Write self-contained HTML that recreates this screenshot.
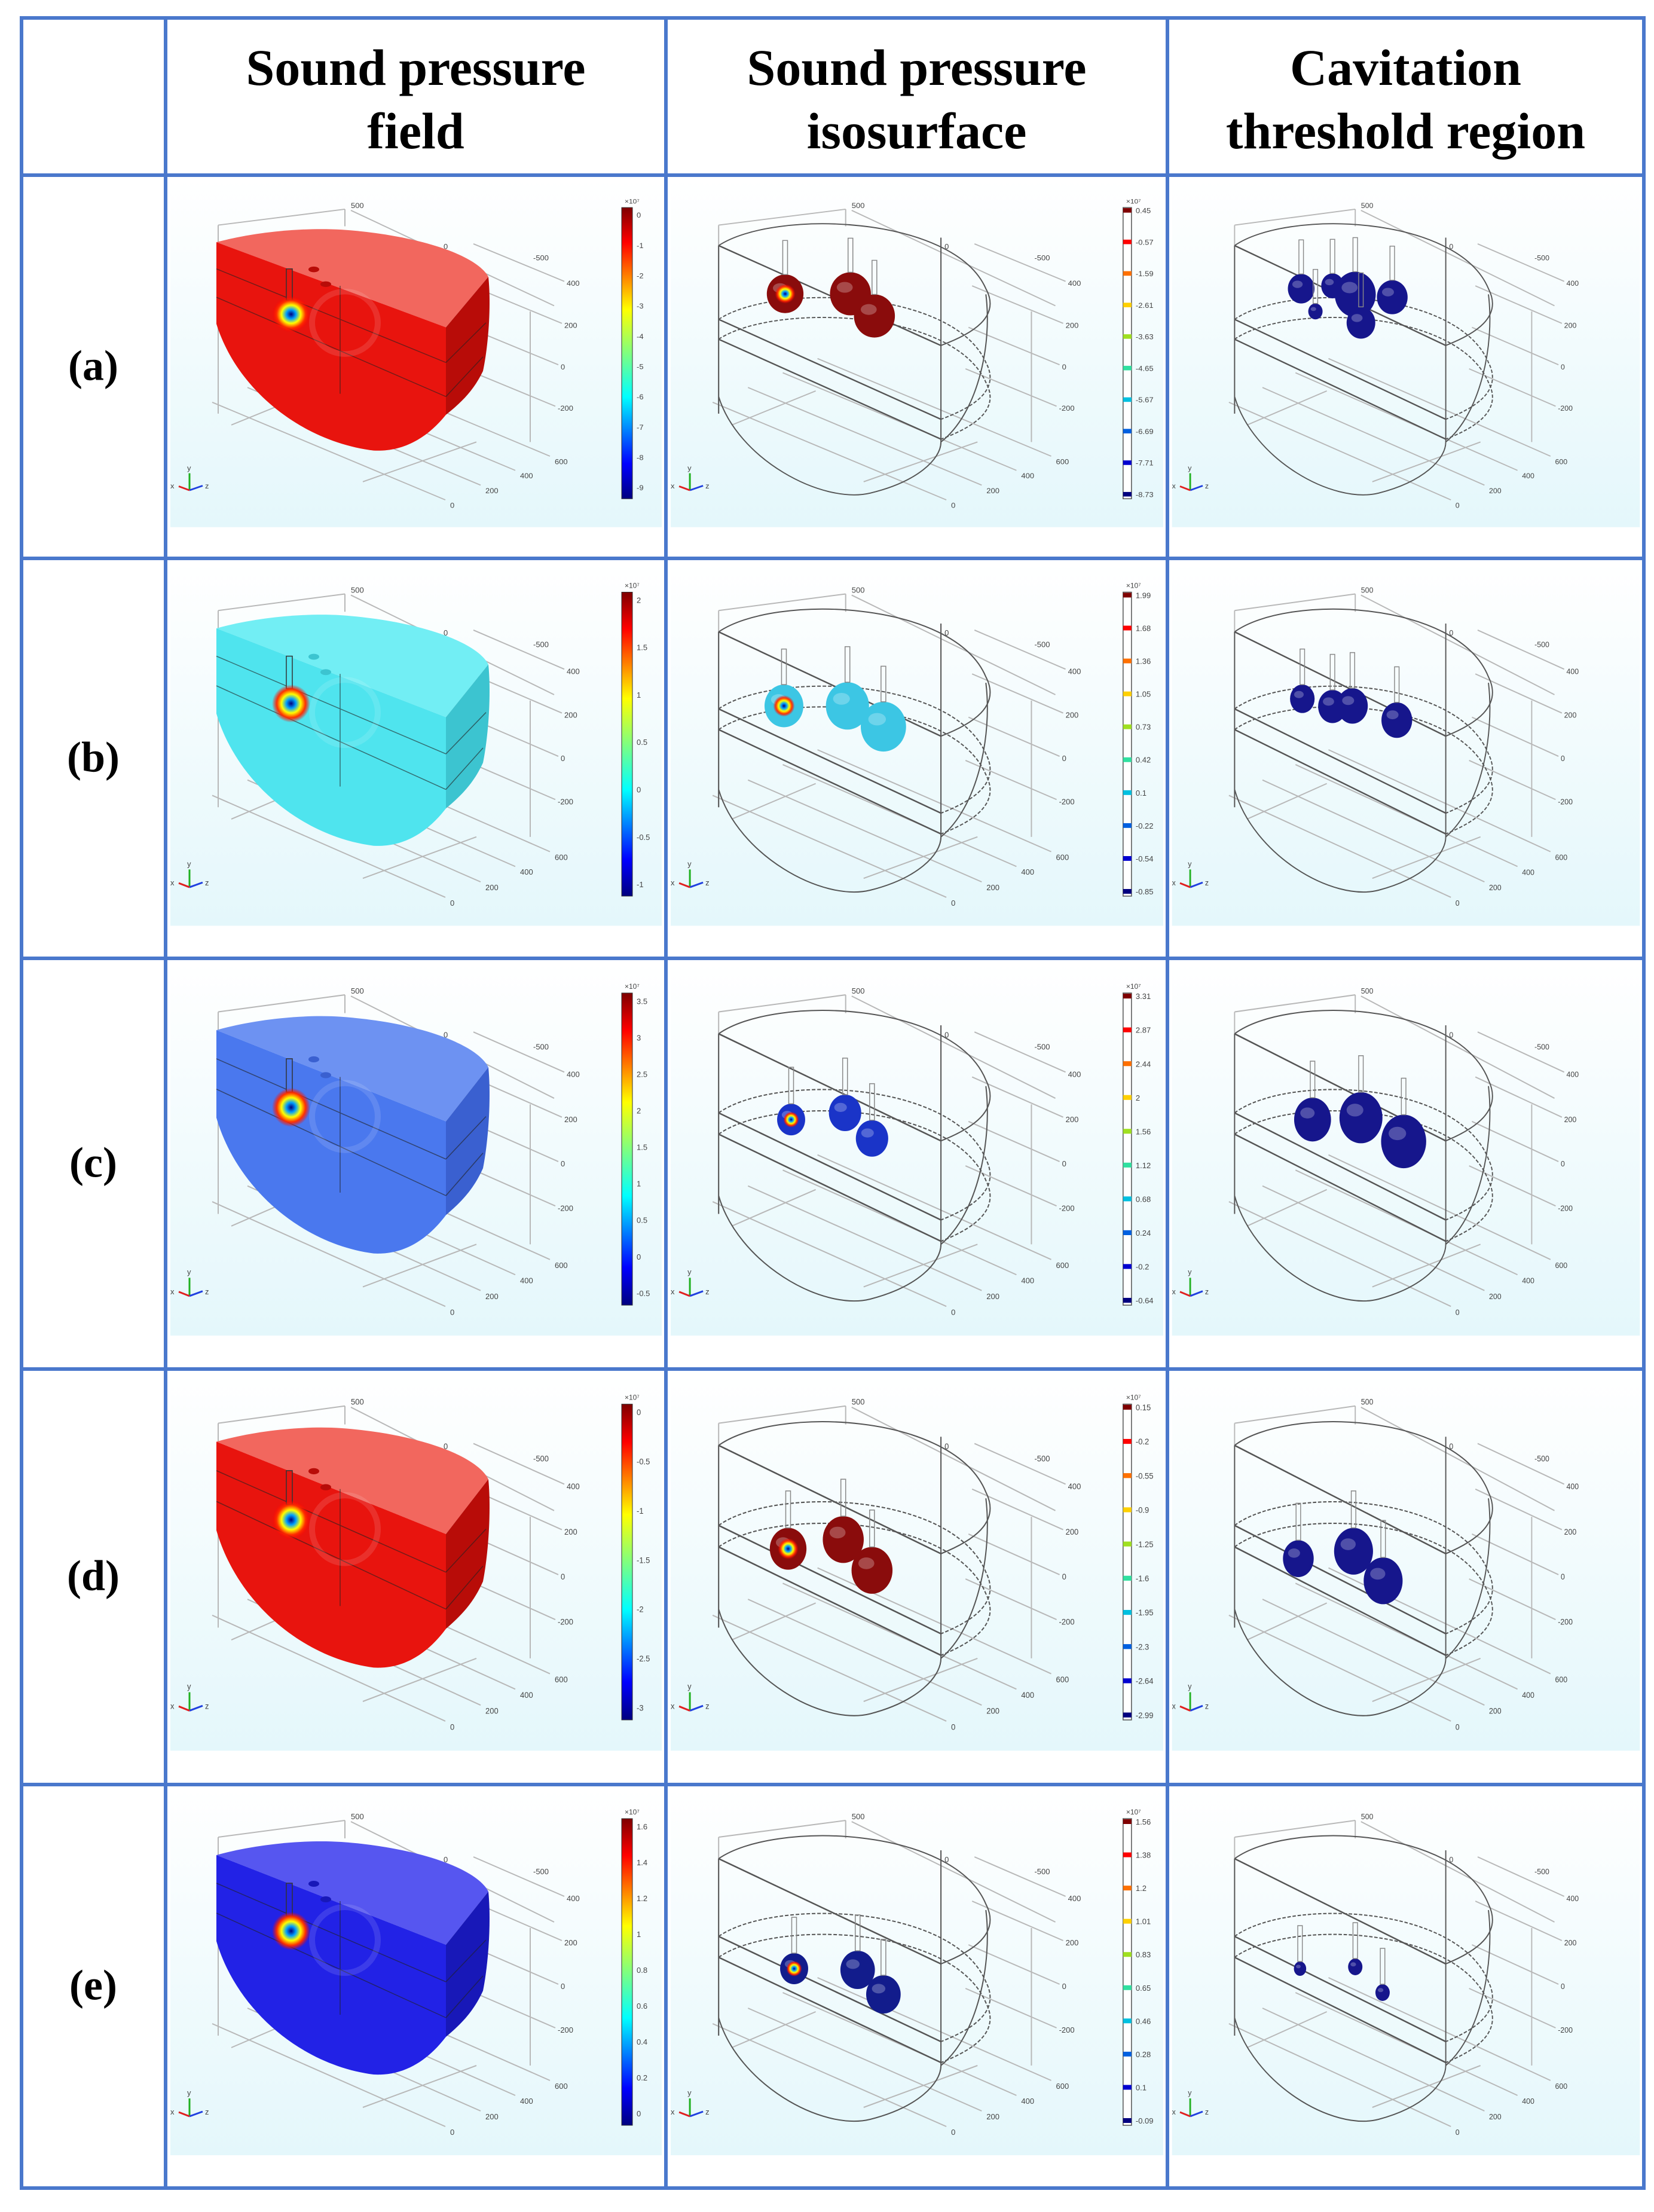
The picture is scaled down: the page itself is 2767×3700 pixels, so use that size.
<!DOCTYPE html>
<html><head><meta charset="utf-8"><style>
html,body{margin:0;padding:0;background:#fff}
svg{display:block}
</style></head><body>
<svg id="fig" width="2767" height="3700" viewBox="0 0 2767 3700" xmlns="http://www.w3.org/2000/svg">
<defs>
<linearGradient id="bg" x1="0" y1="0" x2="0" y2="1"><stop offset="0" stop-color="#ffffff"/><stop offset="1" stop-color="#e4f7fb"/></linearGradient>
<linearGradient id="jet" x1="0" y1="1" x2="0" y2="0"><stop offset="0" stop-color="#00007f"/><stop offset="0.12" stop-color="#0000ff"/><stop offset="0.35" stop-color="#00ffff"/><stop offset="0.5" stop-color="#7fff7f"/><stop offset="0.65" stop-color="#ffff00"/><stop offset="0.88" stop-color="#ff0000"/><stop offset="1" stop-color="#7f0000"/></linearGradient>
<radialGradient id="hot"><stop offset="0" stop-color="#00007f"/><stop offset="0.25" stop-color="#00a0ff"/><stop offset="0.5" stop-color="#ffff00"/><stop offset="0.75" stop-color="#ff3000"/><stop offset="1" stop-color="#ff0000" stop-opacity="0"/></radialGradient>
</defs>
</svg>
<script>
const colX=[36,277,1114,1953,2750];
const rowY=[30,293,934,1603,2290,2985,3660];
const headers=[["Sound pressure","field"],["Sound pressure","isosurface"],["Cavitation","threshold region"]];
const rowLabels=["(a)","(b)","(c)","(d)","(e)"];
const fieldFront=["#e8140e","#4fe4ee","#4a78ee","#e8140e","#2222e6"];
const fieldTop=["#f2675e","#72eef4","#6d92f2","#f2675e","#5656f0"];
const fieldSide=["#b80c08","#3cc4d0","#3a60d0","#b80c08","#1818b8"];
const isoColor=["#8a0c0c","#3cc6e4","#1a34c8","#8a0c0c","#121c8c"];
const cavColor=["#16168c","#16168c","#16168c","#16168c","#16168c"];
const field1Ticks=[["0","-1","-2","-3","-4","-5","-6","-7","-8","-9"],["2","1.5","1","0.5","0","-0.5","-1"],["3.5","3","2.5","2","1.5","1","0.5","0","-0.5"],["0","-0.5","-1","-1.5","-2","-2.5","-3"],["1.6","1.4","1.2","1","0.8","0.6","0.4","0.2","0"]];
const isoTicks=[["0.45","-0.57","-1.59","-2.61","-3.63","-4.65","-5.67","-6.69","-7.71","-8.73"],["1.99","1.68","1.36","1.05","0.73","0.42","0.1","-0.22","-0.54","-0.85"],["3.31","2.87","2.44","2","1.56","1.12","0.68","0.24","-0.2","-0.64"],["0.15","-0.2","-0.55","-0.9","-1.25","-1.6","-1.95","-2.3","-2.64","-2.99"],["1.56","1.38","1.2","1.01","0.83","0.65","0.46","0.28","0.1","-0.09"]];
const isoTickColors=["#7f0000","#ff0000","#ff7000","#ffd000","#a0e020","#30e0a0","#00c0e0","#0060e0","#0000d0","#00007f"];
const isoBlobs=[[[199,209,34],[308,209,38],[348,248,38]],[[197,249,36],[303,249,40],[363,284,42]],[[209,265,26],[299,254,30],[344,296,30]],[[204,292,34],[296,277,38],[344,327,38]],[[214,308,26],[320,310,32],[363,351,32]]];
const cavBlobs=[[[235,200,26],[290,195,22],[330,210,40],[395,215,30],[340,260,28],[260,240,14]],[[237,237,24],[290,250,28],[325,249,30],[403,273,30]],[[255,265,36],[340,262,42],[415,301,44]],[[230,308,30],[327,296,38],[379,344,38]],[[233,308,12],[330,305,14],[378,348,14]]];
const NS="http://www.w3.org/2000/svg";
const svg=document.getElementById('fig');
function mk(tag,attrs,parent){const e=document.createElementNS(NS,tag);for(const k in attrs)e.setAttribute(k,attrs[k]);(parent||svg).appendChild(e);return e;}

headers.forEach((h,i)=>{
  const cx=(colX[i+1]+colX[i+2])/2;
  const t=mk('text',{x:cx,y:142,'text-anchor':'middle','font-family':'Liberation Serif, serif','font-weight':'bold','font-size':86,fill:'#000'});
  
  
  t.textContent=h[0];
  const t2=mk('text',{x:cx,y:248,'text-anchor':'middle','font-family':'Liberation Serif, serif','font-weight':'bold','font-size':86,fill:'#000'});
  
  
  t2.textContent=h[1];
});
rowLabels.forEach((l,r)=>{
  const cy=(rowY[r+1]+rowY[r+2])/2;
  const t=mk('text',{x:156,y:cy+22,'text-anchor':'middle','font-family':'Liberation Serif, serif','font-weight':'bold','font-size':72,fill:'#000'});
  
  
  t.textContent=l;
});

function smallText(g,x,y,s,sz){const t=mk('text',{x:x,y:y,'font-family':'Liberation Sans, sans-serif','font-size':sz||13,fill:'#444'},g);t.textContent=s;return t;}
function axesTriad(g){mk('path',{d:'M40,555 L40,525',stroke:'#20b020','stroke-width':3},g);mk('path',{d:'M40,555 L62,547',stroke:'#2040e0','stroke-width':3},g);mk('path',{d:'M40,555 L22,548',stroke:'#e02020','stroke-width':3},g);smallText(g,36,520,'y',13);smallText(g,66,552,'z',13);smallText(g,8,552,'x',13);}
function gridLines(g,dx){
  const c='#b8b8b8';
  mk('path',{d:`M${88+dx},88 L${300+dx},60 M${310+dx},62 L${650+dx},230 M${88+dx},88 L${88+dx},420 M${300+dx},60 L${300+dx},90 M${610+dx},240 L${610+dx},470`,stroke:c,'stroke-width':2,fill:'none'},g);
  // bottom parallel grid lines ending at 0,200,400,600
  const ends=[[468,572,'0'],[527,546,'200'],[585,520,'400'],[643,495,'600']];
  ends.forEach(e=>{mk('path',{d:`M${e[0]-390+dx},${e[1]-172} L${e[0]+dx},${e[1]}`,stroke:c,'stroke-width':2},g);smallText(g,e[0]+8+dx,e[1]+14,e[2]);});
  mk('path',{d:`M${110+dx},440 L${250+dx},380 M${330+dx},540 L${520+dx},470`,stroke:c,'stroke-width':2},g);
  // right side lines labelled 400..-200
  const rs=[[675,191,'400'],[671,265,'200'],[665,338,'0'],[660,411,'-200']];
  rs.forEach(e=>{mk('path',{d:`M${e[0]-160+dx},${e[1]-70} L${e[0]-8+dx},${e[1]-4}`,stroke:c,'stroke-width':2},g);smallText(g,e[0]-4+dx,e[1]+4,e[2]);});
  smallText(g,310+dx,58,'500');smallText(g,465+dx,130,'0');smallText(g,615+dx,150,'-500');
}
function wire(g,dx){
  const c='#555';
  const L=88+dx,F=459+dx;
  [0,130,165].forEach((o,i)=>{
    mk('path',{d:`M${L},${124+o} L${F},${300+o}`,stroke:c,'stroke-width':2.5,fill:'none'},g);
    mk('path',{d:`M${L},${124+o} C${180+dx},${60+o} ${480+dx},${70+o} ${534+dx},${200+o} C${560+dx},${250+o} ${510+dx},${280+o} ${F},${300+o}`,stroke:c,'stroke-width':2,'stroke-dasharray':i==0?'none':'6 3',fill:'none'},g);
  });
  mk('path',{d:`M${L},124 L${L},420 M${F},110 L${F},470 M${L},390 C${120+dx},500 ${260+dx},580 ${341+dx},560 C${420+dx},540 ${459+dx},500 ${F},470 M${534+dx},210 C${545+dx},300 ${520+dx},420 ${459+dx},470`,stroke:c,'stroke-width':2,fill:'none'},g);
}
function blob(g,x,y,r,col,hot){
  mk('ellipse',{cx:x,cy:y,rx:r*0.9,ry:r,fill:col},g);
  mk('ellipse',{cx:x-r*0.25,cy:y-r*0.3,rx:r*0.35,ry:r*0.25,fill:'#ffffff',opacity:0.25},g);
  mk('rect',{x:x-4,y:y-r-60,width:8,height:60,fill:'none',stroke:'#888','stroke-width':1.5},g);
  if(hot)mk('circle',{cx:x,cy:y,r:r*0.5,fill:'url(#hot)'},g);
}

for(let r=0;r<5;r++){
  const y0=rowY[r+1],h=rowY[r+2]-y0,sy=h/675;
  for(let c=0;c<3;c++){
    const x0=colX[c+1],w=colX[c+2]-x0,sx=w/837;
    const g=mk('g',{transform:`translate(${x0},${y0}) scale(${sx},${sy})`});
    const kind=['field','isosurface','cavitation'][c];
    
    
    mk('rect',{x:8,y:8,width:822,height:612,fill:'url(#bg)'},g);
    if(c==0){
      gridLines(g,0);
      mk('path',{d:'M85,118 C150,100 230,92 294,96 C420,105 520,140 540,179 L469,268 Z',fill:fieldTop[r]},g);
      mk('path',{d:'M469,268 L540,179 C545,230 540,300 531,345 C515,380 495,400 469,422 Z',fill:fieldSide[r]},g);
      mk('path',{d:'M85,118 L469,268 L469,422 C440,460 400,488 348,485 C230,470 120,380 85,262 Z',fill:fieldFront[r]},g);
      mk('path',{d:'M85,165 L469,330 M85,215 L469,390 M469,330 L536,260 M469,390 L531,320 M292,195 L292,385',stroke:'#222','stroke-width':1.5,opacity:0.6,fill:'none'},g);
      mk('rect',{x:202,y:165,width:10,height:55,fill:fieldFront[r],stroke:'#333','stroke-width':1.5},g);
      mk('circle',{cx:210,cy:245,r:32,fill:'url(#hot)'},g);
      mk('circle',{cx:300,cy:260,r:55,fill:'none',stroke:'#ffffff','stroke-width':10,opacity:0.12},g);
      mk('ellipse',{cx:248,cy:166,rx:9,ry:5,fill:fieldSide[r]},g);
      mk('ellipse',{cx:268,cy:192,rx:9,ry:5,fill:fieldSide[r]},g);
      const cb=mk('rect',{x:763,y:57,width:18,height:513,fill:'url(#jet)',stroke:'#333','stroke-width':1},g);
      
      
      smallText(g,768,50,'×10⁷',12);
      const tk=field1Ticks[r];
      tk.forEach((s,i)=>smallText(g,788,75+i*(480/(tk.length-1)),s,13));
      axesTriad(g);
    } else if(c==1){
      gridLines(g,0);
      wire(g,0);
      isoBlobs[r].forEach((b,i)=>blob(g,b[0],b[1],b[2],isoColor[r],i==0));
      mk('rect',{x:763,y:57,width:14,height:513,fill:'#fff',stroke:'#555','stroke-width':1.5},g);
      smallText(g,768,50,'×10⁷',12);
      isoTicks[r].forEach((s,i)=>{const yy=62+i*(500/9);mk('rect',{x:763,y:yy-4,width:14,height:8,fill:isoTickColors[i]},g);smallText(g,784,yy+5,s,13);});
      axesTriad(g);
    } else {
      gridLines(g,30);
      wire(g,30);
      cavBlobs[r].forEach(b=>blob(g,b[0],b[1],b[2],cavColor[r],false));
      axesTriad(g);
    }
  }
}
const bc='#4a78cc';
colX.forEach((x,i)=>{const l=mk('line',{x1:x,y1:rowY[0],x2:x,y2:rowY[6],stroke:bc,'stroke-width':6});});
rowY.forEach((y,i)=>{const l=mk('line',{x1:colX[0]-3,y1:y,x2:colX[4]+3,y2:y,stroke:bc,'stroke-width':6});});
</script>
</body></html>
